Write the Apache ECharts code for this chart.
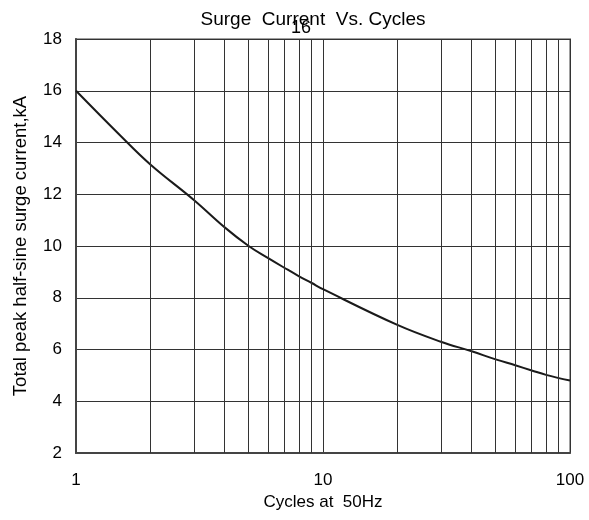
<!DOCTYPE html>
<html>
<head>
<meta charset="utf-8">
<script src="https://cdn.jsdelivr.net/npm/echarts@6/dist/echarts.min.js"></script>
<style>html,body{margin:0;padding:0;background:#fff}#c{width:589px;height:520px}</style>
</head>
<body>
<div id="c"></div>
<script>
var cycles = [1, 1.5, 2, 3, 4, 5, 6, 7, 8, 9, 10, 20, 30, 40, 50, 60, 70, 80, 100];
var current = [16, 14.3, 13.15, 11.78, 10.72, 10.0, 9.53, 9.15, 8.83, 8.57, 8.33, 6.95, 6.3, 5.93, 5.62, 5.39, 5.19, 5.02, 4.8];
var minorX = [2, 3, 4, 5, 6, 7, 8, 9, 20, 30, 40, 50, 60, 70, 80, 90];
var titleText = 'Surge  Current  Vs. Cycles';
var xName = 'Cycles at  50Hz';
var yName = 'Total peak half-sine surge current,kA';

var font = 'Liberation Sans, Arial, sans-serif';
var chart = echarts.init(document.getElementById('c'), null, {renderer: 'canvas'});
chart.setOption({
  animation: false,
  backgroundColor: '#fff',
  title: [
    {text: titleText, left: 308, top: 5, textAlign: 'center',
     textStyle: {fontFamily: font, fontSize: 19, fontWeight: 'normal', color: '#000'}},
    {text: '16', left: 296, top: 14, textAlign: 'center',
     textStyle: {fontFamily: font, fontSize: 18, fontWeight: 'normal', color: '#000'}}
  ],
  grid: {left: 76, right: 19, top: 39, bottom: 67, show: true, borderColor: '#a0a0a0', borderWidth: 2, backgroundColor: 'transparent'},
  xAxis: {
    type: 'log', logBase: 10, min: 1, max: 100,
    name: xName, nameLocation: 'middle', nameGap: 41,
    nameTextStyle: {fontFamily: font, fontSize: 17, color: '#000'},
    axisLine: {lineStyle: {color: '#444', width: 2}},
    axisTick: {show: false},
    axisLabel: {fontFamily: font, fontSize: 17, color: '#000', margin: 19},
    splitLine: {show: true, lineStyle: {color: '#333', width: 1}}
  },
  yAxis: {
    type: 'value', min: 2, max: 18, interval: 2,
    name: yName, nameLocation: 'middle', nameGap: 46,
    nameTextStyle: {fontFamily: font, fontSize: 18.5, color: '#000'},
    axisLine: {show: true, lineStyle: {color: '#444', width: 2}},
    axisTick: {show: false},
    axisLabel: {fontFamily: font, fontSize: 17, color: '#000', margin: 14},
    splitLine: {show: true, lineStyle: {color: '#333', width: 1}}
  },
  series: [{
    type: 'line',
    data: cycles.map(function (c, i) { return [c, current[i]]; }),
    smooth: 0.4,
    showSymbol: false,
    lineStyle: {color: '#1a1a1a', width: 2},
    markLine: {
      silent: true, symbol: 'none', label: {show: false},
      lineStyle: {color: '#333', width: 1, type: 'solid'},
      data: minorX.map(function (v) { return {xAxis: v}; })
    }
  }]
});
</script>
</body>
</html>
